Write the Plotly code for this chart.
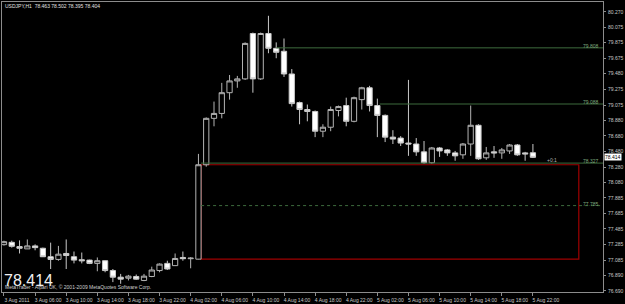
import plotly.graph_objects as go

# ---------------- data ----------------
title_text = "USDJPY,H1  78.463 78.502 78.395 78.404"
last_price_text = "78.414"
copyright_text = "MetaTrader - Alpari UK, \u00a9 2001-2009 MetaQuotes Software Corp."
timer_text = "+0:1"

bar_index = list(range(69))  # hourly bars, 3 Aug 2011 02:00 .. 5 Aug 22:00

opens = [77.284, 77.314, 77.259, 77.230, 77.268, 77.238, 77.129, 77.095, 77.171, 77.129,
         77.091, 77.086, 77.044, 77.078, 76.952, 76.867, 76.854, 76.876, 76.825, 76.876,
         76.952, 77.044, 77.015, 77.120, 77.104, 77.098, 78.309, 78.904, 78.967, 79.233,
         79.384, 79.410, 79.992, 79.410, 79.992, 79.802, 79.764, 79.473, 79.106, 79.017,
         78.992, 78.739, 78.790, 79.005, 79.068, 78.866, 79.144, 79.296, 79.068, 78.942,
         78.663, 78.651, 78.587, 78.575, 78.474, 78.334, 78.524, 78.499, 78.461, 78.436,
         78.575, 78.815, 78.398, 78.474, 78.461, 78.486, 78.562, 78.461, 78.463]
highs = [77.335, 77.335, 77.339, 77.351, 77.288, 77.246, 77.310, 77.268, 77.351, 77.196,
         77.183, 77.091, 77.120, 77.082, 76.972, 76.909, 76.896, 76.901, 76.909, 77.002,
         77.044, 77.078, 77.171, 77.196, 77.124, 78.448, 78.916, 79.119, 79.359, 79.460,
         79.448, 79.878, 80.004, 80.004, 80.219, 79.878, 79.928, 79.536, 79.119, 79.081,
         79.005, 78.828, 79.055, 79.068, 79.169, 79.182, 79.308, 79.321, 79.157, 78.954,
         78.752, 78.676, 79.397, 78.651, 78.613, 78.537, 78.537, 78.511, 78.486, 78.587,
         79.068, 78.828, 78.537, 78.549, 78.524, 78.575, 78.575, 78.474, 78.575]
lows = [77.272, 77.246, 77.171, 77.228, 77.212, 77.126, 76.972, 77.078, 76.972, 77.044,
        77.044, 77.035, 76.943, 76.930, 76.804, 76.782, 76.825, 76.833, 76.816, 76.867,
        76.930, 76.959, 77.012, 77.078, 76.981, 77.095, 78.284, 78.802, 78.904, 79.144,
        79.296, 79.397, 79.233, 79.397, 79.739, 79.675, 79.435, 79.055, 78.828, 78.866,
        78.663, 78.663, 78.739, 78.929, 78.802, 78.853, 79.017, 78.992, 78.663, 78.600,
        78.575, 78.549, 78.423, 78.423, 78.322, 78.322, 78.410, 78.423, 78.360, 78.385,
        78.423, 78.372, 78.372, 78.398, 78.385, 78.448, 78.423, 78.360, 78.395]
closes = [77.322, 77.263, 77.238, 77.268, 77.246, 77.129, 77.095, 77.162, 77.145, 77.086,
          77.078, 77.044, 77.078, 76.952, 76.867, 76.842, 76.880, 76.842, 76.880, 76.959,
          77.035, 76.972, 77.107, 77.104, 77.111, 78.309, 78.904, 78.967, 79.233, 79.384,
          79.410, 79.865, 79.410, 79.992, 79.802, 79.751, 79.473, 79.093, 79.017, 78.992,
          78.739, 78.790, 79.017, 79.055, 78.866, 79.169, 79.296, 79.068, 78.942, 78.663,
          78.638, 78.587, 78.575, 78.474, 78.334, 78.524, 78.486, 78.461, 78.423, 78.575,
          78.815, 78.385, 78.461, 78.461, 78.499, 78.562, 78.436, 78.448, 78.404]

time_tick_bars = [0, 4, 8, 12, 16, 20, 24, 28, 32, 36, 40, 44, 48, 52, 56, 60, 64, 68]
time_tick_labels = ["3 Aug 2011", "3 Aug 06:00", "3 Aug 10:00", "3 Aug 14:00", "3 Aug 18:00",
                    "3 Aug 22:00", "4 Aug 02:00", "4 Aug 06:00", "4 Aug 10:00", "4 Aug 14:00",
                    "4 Aug 18:00", "4 Aug 22:00", "5 Aug 02:00", "5 Aug 06:00", "5 Aug 10:00",
                    "5 Aug 14:00", "5 Aug 18:00", "5 Aug 22:00"]

price_ticks = [80.270, 80.075, 79.875, 79.675, 79.480, 79.275, 79.075, 78.880, 78.680, 78.480,
               78.280, 78.080, 77.885, 77.685, 77.485, 77.285, 77.085, 76.890, 76.690]

# drawn objects (horizontal levels and rectangle)
level_values = [79.808, 79.088, 78.330]
level_labels = ["79.808", "79.088", "78.327"]
level_start_bar = [35, 48.3, 25.34]
dashed_level = 77.785
dashed_label = "77.785"
dashed_start_bar = 25.34
box_bar_left = 25.34
box_bar_right = 73.9
box_top = closes[25]
box_bottom = opens[25]

# ---------------- layout constants ----------------
W, H = 625, 304
x_range = [-0.255, 77.01]
y_range = [76.677, 80.396]
axis_grey = "#8c8c8c"
text_grey = "#c8c8c8"
lvl_line = "#3d6b3d"
lvl_text = "#7faa7f"
font_family = "Liberation Sans, Arial, sans-serif"

fig = go.Figure()
fig.add_trace(go.Candlestick(
    x=bar_index, open=opens, high=highs, low=lows, close=closes,
    increasing=dict(line=dict(color="#b4b4b4", width=1), fillcolor="#000000"),
    decreasing=dict(line=dict(color="#c8c8c8", width=1), fillcolor="#ffffff"),
    whiskerwidth=0, hoverinfo="skip", showlegend=False,
))

shapes = []
for lv, x0 in zip(level_values, level_start_bar):
    shapes.append(dict(type="line", xref="x", yref="y", x0=x0, x1=x_range[1], y0=lv, y1=lv,
                       line=dict(color=lvl_line, width=1), layer="above"))
shapes.append(dict(type="line", xref="x", yref="y", x0=dashed_start_bar, x1=x_range[1],
                   y0=dashed_level, y1=dashed_level,
                   line=dict(color=lvl_line, width=1, dash="dot"), layer="above"))
shapes.append(dict(type="rect", xref="x", yref="y", x0=box_bar_left, x1=box_bar_right,
                   y0=box_bottom, y1=box_top, line=dict(color="#a00000", width=1.2),
                   fillcolor="rgba(0,0,0,0)", layer="below"))

annotations = []
for lv, lab in zip(level_values + [dashed_level], level_labels + [dashed_label]):
    annotations.append(dict(xref="paper", yref="y", x=1, y=lv, text=lab, showarrow=False,
                            xanchor="right", yanchor="bottom", xshift=-2, yshift=-3,
                            font=dict(size=5, color=lvl_text, family=font_family)))
annotations.append(dict(xref="paper", yref="paper", x=0, y=0.986, text=title_text, showarrow=False,
                        xanchor="left", yanchor="middle", xshift=1,
                        font=dict(size=5, color="#e0e0e0", family=font_family)))
annotations.append(dict(xref="paper", yref="paper", x=0, y=0.040, text=last_price_text,
                        showarrow=False, xanchor="left", yanchor="middle", xshift=0,
                        font=dict(size=16, color="#f0f0f0", family=font_family)))
annotations.append(dict(xref="paper", yref="paper", x=0, y=0.017, text=copyright_text,
                        showarrow=False, xanchor="left", yanchor="middle", xshift=1,
                        font=dict(size=5, color="#d0d0d0", family=font_family)))
annotations.append(dict(xref="x", yref="y", x=bar_index[-1] + 1.6, y=closes[-1] - 0.03,
                        text=timer_text, showarrow=False, xanchor="left", yanchor="middle",
                        font=dict(size=5, color="#b0b0b0", family=font_family)))
annotations.append(dict(xref="paper", yref="y", x=1, y=float(last_price_text), text=last_price_text,
                        showarrow=False, xanchor="left", yanchor="middle", xshift=1,
                        bgcolor="#ffffff", borderpad=0,
                        font=dict(size=5, color="#000000", family=font_family)))

fig.update_layout(
    width=W, height=H,
    margin=dict(l=1, r=19, t=1, b=9),
    paper_bgcolor="#000000", plot_bgcolor="#000000",
    showlegend=False,
    shapes=shapes, annotations=annotations,
    boxgap=0.25, boxgroupgap=0.1,
    xaxis=dict(range=x_range, rangeslider=dict(visible=False), showgrid=False, zeroline=False,
               showline=True, linecolor=axis_grey, linewidth=1, mirror=True,
               tickmode="array", tickvals=time_tick_bars, ticktext=time_tick_labels,
               ticks="outside", ticklen=3, tickcolor=axis_grey, tickwidth=1,
               ticklabelshift=13, ticklabelstandoff=0,
               tickfont=dict(size=5, color=text_grey, family=font_family)),
    yaxis=dict(range=y_range, side="right", showgrid=False, zeroline=False,
               showline=True, linecolor=axis_grey, linewidth=1, mirror=True,
               tickmode="array", tickvals=price_ticks, tickformat=".3f",
               ticks="outside", ticklen=2, tickcolor=axis_grey, tickwidth=1,
               ticklabelstandoff=1,
               tickfont=dict(size=5, color=text_grey, family=font_family)),
)

fig.write_html("out.html")
